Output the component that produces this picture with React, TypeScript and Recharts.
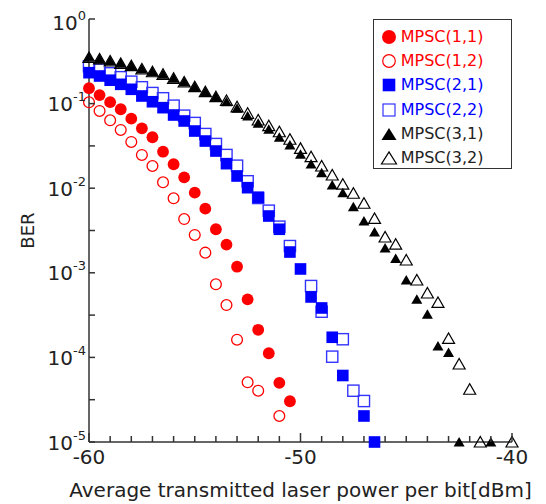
import { ScatterChart, Scatter, XAxis, YAxis, Legend } from "recharts"

const RED = "#ff0000"
const BLUE = "#0000ff"
const OPEN_BLUE = "#3434ff"
const BLACK = "#000000"
const AXIS = "#333333"
const TEXT = "#222222"
const FONT = "'DejaVu Sans', sans-serif"

// MPSC(1,1) – filled red circles
const power11 = [-60, -59.5, -59, -58.5, -58, -57.5, -57, -56.5, -56, -55.5, -55, -54.5, -54, -53.5, -53, -52.5, -52, -51.5, -51, -50.5]
const ber11 = [0.152, 0.126, 0.104, 0.0857, 0.0663, 0.051, 0.04, 0.027, 0.0192, 0.01345, 0.00885, 0.00573, 0.00327, 0.00215, 0.00118, 4.86e-4, 2.12e-4, 1.12e-4, 5.0e-5, 3.03e-5]

// MPSC(1,2) – open red circles
const power12 = [-60, -59.5, -59, -58.5, -58, -57.5, -57, -56.5, -56, -55.5, -55, -54.5, -54, -53.5, -53, -52.5, -52, -51]
const ber12 = [0.1036, 0.0818, 0.0635, 0.0488, 0.0352, 0.0247, 0.0183, 0.01174, 0.0076, 0.00432, 0.0028, 0.00173, 7.31e-4, 4.16e-4, 1.62e-4, 5.08e-5, 4.04e-5, 2.03e-5]

// MPSC(2,1) – filled blue squares
const power21 = [-60, -59.5, -59, -58.5, -58, -57.5, -57, -56.5, -56, -55.5, -55, -54.5, -54, -53.5, -53, -52.5, -52, -51.5, -51, -50.5, -50, -49.5, -49, -48.5, -48, -47, -46.5]
const ber21 = [0.232, 0.212, 0.189, 0.169, 0.1476, 0.123, 0.1052, 0.0895, 0.0733, 0.0623, 0.0474, 0.0361, 0.0275, 0.0195, 0.01394, 0.01014, 0.0078, 0.00469, 0.00327, 0.00176, 0.00111, 5.18e-4, 3.84e-4, 1.73e-4, 6.11e-5, 2.03e-5, 1e-5]

// MPSC(2,2) – open blue squares
const power22 = [-60, -59.5, -59, -58.5, -58, -57.5, -57, -56.5, -56, -55.5, -55, -54.5, -54, -53.5, -53, -52.5, -52, -51.5, -51, -50.5, -49.5, -49, -48.5, -48, -47.5, -47]
const ber22 = [0.276, 0.252, 0.228, 0.205, 0.1815, 0.156, 0.1334, 0.1156, 0.0945, 0.072, 0.059, 0.0437, 0.0333, 0.0247, 0.01845, 0.01207, 0.00766, 0.00542, 0.00351, 0.00207, 6.98e-4, 3.47e-4, 1.02e-4, 1.64e-4, 4.04e-5, 3.05e-5]

// MPSC(3,1) – filled black triangles
const power31 = [-60, -59.5, -59, -58.5, -58, -57.5, -57, -56.5, -56, -55.5, -55, -54.5, -54, -53.5, -53, -52.5, -52, -51.5, -51, -50.5, -50, -49.5, -49, -48.5, -48, -47.5, -47, -46.5, -46, -45.5, -45, -44.5, -44, -43.5, -43, -42.5, -41]
const ber31 = [0.352, 0.337, 0.319, 0.299, 0.2805, 0.2565, 0.238, 0.222, 0.199, 0.18, 0.1584, 0.1383, 0.1207, 0.1053, 0.0879, 0.0713, 0.0585, 0.0497, 0.04, 0.0324, 0.0252, 0.0193, 0.01525, 0.0109, 0.00885, 0.00604, 0.00409, 0.00303, 0.00196, 0.00148, 8.22e-4, 4.86e-4, 3.24e-4, 1.36e-4, 1.14e-4, 1e-5, 1e-5]

// MPSC(3,2) – open black triangles
const power32 = [-60, -59.5, -59, -58.5, -58, -57.5, -57, -56.5, -56, -55.5, -55, -54.5, -54, -53.5, -53, -52.5, -52, -51.5, -51, -50.5, -50, -49.5, -49, -48.5, -48, -47.5, -47, -46.5, -46, -45.5, -45, -44.5, -44, -43.5, -43, -42.5, -42, -41.5, -40]
const ber32 = [0.352, 0.337, 0.319, 0.299, 0.2805, 0.2565, 0.238, 0.222, 0.199, 0.18, 0.1584, 0.1383, 0.1207, 0.109, 0.0917, 0.0768, 0.064, 0.0548, 0.0465, 0.0379, 0.0296, 0.0236, 0.01829, 0.01432, 0.01115, 0.00871, 0.00664, 0.0044, 0.00265, 0.00218, 0.001416, 8.22e-4, 5.77e-4, 4.46e-4, 1.68e-4, 8.36e-5, 4.2e-5, 1e-5, 1e-5]

const xTicks = [-60, -59, -58, -57, -56, -55, -54, -53, -52, -51, -50, -49, -48, -47, -46, -45, -44, -43, -42, -41, -40]
const xTickLabels = [-60, -50, -40]
const yTickExps = [0, -0.5, -1, -1.5, -2, -2.5, -3, -3.5, -4, -4.5, -5]
const yTicks = yTickExps.map((e) => Math.pow(10, e))

const toPoints = (xs: number[], ys: number[]) => xs.map((x, i) => ({ x, y: ys[i] }))

const FilledCircle = (p: any) => <circle cx={p.cx} cy={p.cy} r={5.9} fill={RED} />
const OpenCircle = (p: any) => <circle cx={p.cx} cy={p.cy} r={5.4} fill="none" stroke={RED} strokeWidth={1.3} />
const FilledSquare = (p: any) => <rect x={p.cx - 5.8} y={p.cy - 5.8} width={11.6} height={11.6} fill={BLUE} />
const OpenSquare = (p: any) => (
  <rect x={p.cx - 5.6} y={p.cy - 5.6} width={11.2} height={11.2} fill="none" stroke={OPEN_BLUE} strokeWidth={1.4} />
)
const FilledTriangle = (p: any) => (
  <polygon points={`${p.cx - 5.5},${p.cy + 4.5} ${p.cx + 5.5},${p.cy + 4.5} ${p.cx},${p.cy - 5}`} fill={BLACK} />
)
const OpenTriangle = (p: any) => (
  <polygon
    points={`${p.cx - 6},${p.cy + 5} ${p.cx + 6},${p.cy + 5} ${p.cx},${p.cy - 5.5}`}
    fill="none"
    stroke={BLACK}
    strokeWidth={1.2}
  />
)

const legendItems = [
  { name: "MPSC(1,1)", color: RED, marker: <circle cx={15} cy={12} r={7} fill={RED} /> },
  { name: "MPSC(1,2)", color: RED, marker: <circle cx={15} cy={12} r={6.3} fill="none" stroke={RED} strokeWidth={1.2} /> },
  { name: "MPSC(2,1)", color: BLUE, marker: <rect x={8.7} y={5.7} width={12.6} height={12.6} fill={BLUE} /> },
  {
    name: "MPSC(2,2)",
    color: BLUE,
    marker: <rect x={9} y={6} width={12} height={12} fill="none" stroke={OPEN_BLUE} strokeWidth={1.2} />,
  },
  { name: "MPSC(3,1)", color: TEXT, marker: <polygon points="7.5,18 22.5,18 15,6" fill={BLACK} /> },
  {
    name: "MPSC(3,2)",
    color: TEXT,
    marker: <polygon points="7.5,18 22.5,18 15,6" fill="none" stroke={BLACK} strokeWidth={1.2} />,
  },
]

function LegendBox() {
  return (
    <div
      style={{
        boxSizing: "border-box",
        width: "100%",
        height: "100%",
        border: `1.5px solid ${AXIS}`,
        background: "#fff",
        paddingTop: 5,
        fontFamily: FONT,
      }}
    >
      {legendItems.map((item) => (
        <div key={item.name} style={{ display: "flex", alignItems: "center", height: 24.2 }}>
          <svg width={27} height={24} style={{ flex: "none" }}>
            {item.marker}
          </svg>
          <span style={{ fontSize: 16, color: item.color, lineHeight: "24px" }}>{item.name}</span>
        </div>
      ))}
    </div>
  )
}

function BottomTick({ x, y, payload }: any) {
  const major = xTickLabels.includes(payload.value)
  return (
    <g>
      <line x1={x} x2={x} y1={y} y2={y - (major ? 9 : 6)} stroke={AXIS} strokeWidth={1.5} />
      {major && (
        <text x={x} y={y + 21.5} textAnchor="middle" fontSize={20} fill={TEXT} fontFamily={FONT}>
          {payload.value}
        </text>
      )}
    </g>
  )
}

function TopTick({ x, y, payload }: any) {
  const major = xTickLabels.includes(payload.value)
  return <line x1={x} x2={x} y1={y} y2={y + (major ? 9 : 6)} stroke={AXIS} strokeWidth={1.5} />
}

function LeftTick({ x, y, payload }: any) {
  const exp = Math.round(Math.log10(payload.value) * 2) / 2
  const major = Number.isInteger(exp)
  return (
    <g>
      <line x1={x} x2={x + 6} y1={y} y2={y} stroke={AXIS} strokeWidth={1.5} />
      {major && (
        <text x={x - 3} y={y + (exp === 0 ? 11 : 7.5)} textAnchor="end" fontSize={20} fill={TEXT} fontFamily={FONT}>
          10
          <tspan dy={-10} fontSize={13}>
            {exp}
          </tspan>
        </text>
      )}
    </g>
  )
}

function RightTick({ x, y }: any) {
  return <line x1={x} x2={x - 6} y1={y} y2={y} stroke={AXIS} strokeWidth={1.5} />
}

const axisLine = { stroke: AXIS, strokeWidth: 1.5 }

export default function App() {
  return (
    <div style={{ width: 530, height: 496, fontFamily: FONT }}>
      <ScatterChart width={530} height={496} margin={{ top: 11, right: 26, bottom: 0, left: 0 }}>
        <XAxis
          type="number"
          dataKey="x"
          domain={[-60, -40]}
          ticks={xTicks}
          interval={0}
          tickSize={0}
          tickMargin={0}
          tick={BottomTick}
          axisLine={axisLine}
          height={62}
          label={{
            value: "Average transmitted laser power per bit[dBm]",
            position: "insideBottom",
            offset: 7,
            fontSize: 20,
            fill: TEXT,
            fontFamily: FONT,
          }}
        />
        <XAxis
          xAxisId="top"
          orientation="top"
          type="number"
          domain={[-60, -40]}
          allowDataOverflow
          ticks={xTicks}
          interval={0}
          tickSize={0}
          tickMargin={0}
          tick={TopTick}
          axisLine={axisLine}
          height={0}
        />
        <YAxis
          type="number"
          dataKey="y"
          scale="log"
          domain={[1e-5, 1]}
          ticks={yTicks}
          interval={0}
          tickSize={0}
          tickMargin={0}
          tick={LeftTick}
          axisLine={axisLine}
          width={81}
          label={(props: any) => {
            const vb = props.viewBox
            const cy = vb.y + vb.height / 2
            return (
              <text
                x={19}
                y={cy}
                transform={`rotate(-90, 19, ${cy})`}
                textAnchor="middle"
                dominantBaseline="central"
                fontSize={18}
                fill={TEXT}
                fontFamily={FONT}
              >
                BER
              </text>
            )
          }}
        />
        <YAxis
          yAxisId="right"
          orientation="right"
          type="number"
          scale="log"
          domain={[1e-5, 1]}
          allowDataOverflow
          ticks={yTicks}
          interval={0}
          tickSize={0}
          tickMargin={0}
          tick={RightTick}
          axisLine={axisLine}
          width={0}
        />
        <Legend
          layout="vertical"
          align="center"
          verticalAlign="middle"
          content={() => <LegendBox />}
          wrapperStyle={{ left: 364.7, top: 11, width: 139.3, height: 150.3 }}
        />
        <Scatter name="MPSC(1,2)" data={toPoints(power12, ber12)} shape={OpenCircle} isAnimationActive={false} />
        <Scatter name="MPSC(1,1)" data={toPoints(power11, ber11)} shape={FilledCircle} isAnimationActive={false} />
        <Scatter name="MPSC(2,2)" data={toPoints(power22, ber22)} shape={OpenSquare} isAnimationActive={false} />
        <Scatter name="MPSC(2,1)" data={toPoints(power21, ber21)} shape={FilledSquare} isAnimationActive={false} />
        <Scatter name="MPSC(3,2)" data={toPoints(power32, ber32)} shape={OpenTriangle} isAnimationActive={false} />
        <Scatter name="MPSC(3,1)" data={toPoints(power31, ber31)} shape={FilledTriangle} isAnimationActive={false} />
      </ScatterChart>
    </div>
  )
}
